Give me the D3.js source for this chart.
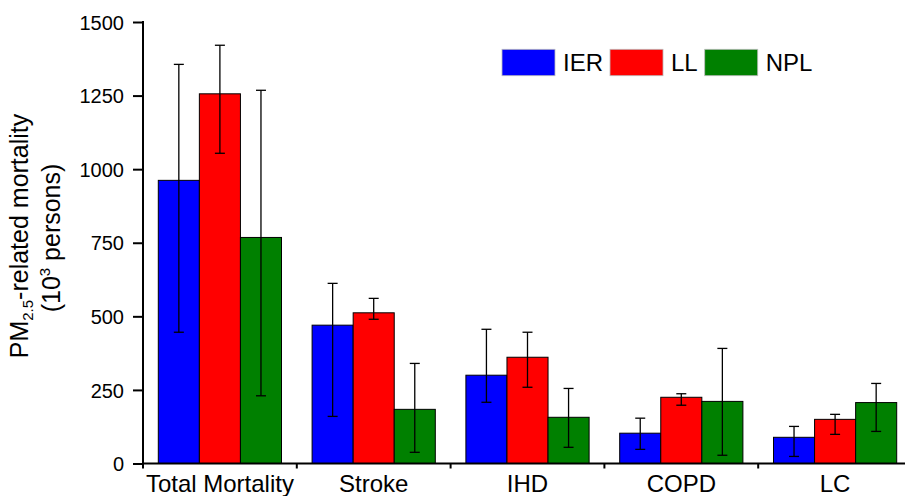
<!DOCTYPE html>
<html>
<head>
<meta charset="utf-8">
<script src="https://cdn.jsdelivr.net/npm/d3@7"></script>
<style>
  body { margin: 0; background: #fff; }
  svg text { font-family: "Liberation Sans", Arial, sans-serif; fill: #000; }
</style>
</head>
<body>
<svg id="dessin" width="905" height="496"></svg>
<script>
// categories and series (10^3 persons)
let categories = ["Total Mortality", "Stroke", "IHD", "COPD", "LC"];
let series = ["IER", "LL", "NPL"];
let couleurs = ["#0000ff", "#ff0000", "#008000"];

let ier = [962, 470, 300, 103, 89];
let ierLow = [446, 160, 208, 48, 24];
let ierHigh = [1356, 612, 456, 154, 126];

let ll = [1256, 512, 361, 225, 150];
let llLow = [1054, 490, 259, 198, 99];
let llHigh = [1421, 561, 446, 237, 167];

let npl = [768, 184, 157, 211, 207];
let nplLow = [230, 38, 55, 28, 109];
let nplHigh = [1268, 340, 255, 391, 272];

let yTicks = [0, 250, 500, 750, 1000, 1250, 1500];

// table built from the arrays
let valeurs = [ier, ll, npl];
let bas = [ierLow, llLow, nplLow];
let hauts = [ierHigh, llHigh, nplHigh];
let data = [];
categories.forEach((c, i) => {
  series.forEach((s, j) => {
    data.push({cat: c, serie: s, v: valeurs[j][i], lo: bas[j][i], hi: hauts[j][i], couleur: couleurs[j]});
  });
});

const svg = d3.select("#dessin");

const x = d3.scaleBand().domain(categories).range([143, 912]);
const bw = x.bandwidth();
const x1 = d3.scaleBand().domain(series).range([15.3, bw - 15.3]);
const y = d3.scaleLinear().domain([0, 1500]).range([463.5, 22]);

// bars
svg.append("g")
  .selectAll("rect")
  .data(data)
  .enter()
  .append("rect")
  .attr("x", d => x(d.cat) + x1(d.serie))
  .attr("y", d => y(d.v))
  .attr("width", x1.bandwidth())
  .attr("height", d => y(0) - y(d.v))
  .style("fill", d => d.couleur)
  .style("stroke", "#000")
  .style("stroke-width", 1);

// error bars
const err = svg.append("g")
  .selectAll("g")
  .data(data)
  .enter()
  .append("g")
  .attr("transform", d => `translate(${x(d.cat) + x1(d.serie) + x1.bandwidth() / 2},0)`)
  .style("stroke", "#000")
  .style("stroke-width", 1.3);

err.append("line").attr("x1", 0).attr("x2", 0).attr("y1", d => y(d.lo)).attr("y2", d => y(d.hi));
err.append("line").attr("x1", -5).attr("x2", 5).attr("y1", d => y(d.hi)).attr("y2", d => y(d.hi));
err.append("line").attr("x1", -5).attr("x2", 5).attr("y1", d => y(d.lo)).attr("y2", d => y(d.lo));

// y axis
const axeY = svg.append("g")
  .attr("transform", "translate(143,0)")
  .call(d3.axisLeft(y).tickValues(yTicks).tickFormat(d3.format("d")).tickSize(10).tickPadding(9).tickSizeOuter(0));
axeY.select(".domain").remove();
axeY.selectAll(".tick line").style("stroke-width", 2);
axeY.selectAll("text").style("font-size", "20px").attr("dy", "0.36em");
svg.append("line")
  .attr("x1", 143).attr("x2", 143).attr("y1", 21).attr("y2", 468.5)
  .style("stroke", "#000").style("stroke-width", 2);

// x axis
svg.append("line")
  .attr("x1", 142).attr("x2", 905).attr("y1", y(0)).attr("y2", y(0))
  .style("stroke", "#000").style("stroke-width", 2);
svg.append("g")
  .selectAll("line")
  .data(categories.slice(1))
  .enter()
  .append("line")
  .attr("x1", d => x(d)).attr("x2", d => x(d))
  .attr("y1", y(0)).attr("y2", y(0) + 5)
  .style("stroke", "#000").style("stroke-width", 2);

svg.append("g")
  .selectAll("text")
  .data(categories)
  .enter()
  .append("text")
  .attr("x", d => x(d) + bw / 2)
  .attr("y", 492)
  .attr("text-anchor", "middle")
  .style("font-size", "24px")
  .text(d => d);

// y label
const lab = svg.append("text")
  .attr("transform", "translate(28,236) rotate(-90)")
  .attr("text-anchor", "middle")
  .style("font-size", "25px");
lab.append("tspan").text("PM");
lab.append("tspan").attr("dy", 5).style("font-size", "15px").text("2.5");
lab.append("tspan").attr("dy", -5).text("-related mortality");

const lab2 = svg.append("text")
  .attr("transform", "translate(60,238) rotate(-90)")
  .attr("text-anchor", "middle")
  .style("font-size", "25px");
lab2.append("tspan").text("(10");
lab2.append("tspan").attr("dy", -10).style("font-size", "15px").text("3");
lab2.append("tspan").attr("dy", 10).text(" persons)");

// legend
let lx = 502;
series.forEach((s, j) => {
  svg.append("rect")
    .attr("x", lx).attr("y", 49.3).attr("width", 53).attr("height", 26.4)
    .style("fill", couleurs[j]).style("stroke", "#bbb").style("stroke-width", 0.8);
  const t = svg.append("text")
    .attr("x", lx + 61).attr("y", 71)
    .style("font-size", "24px")
    .text(s);
  lx = lx + 61 + t.node().getComputedTextLength() + 7;
});
</script>
</body>
</html>
